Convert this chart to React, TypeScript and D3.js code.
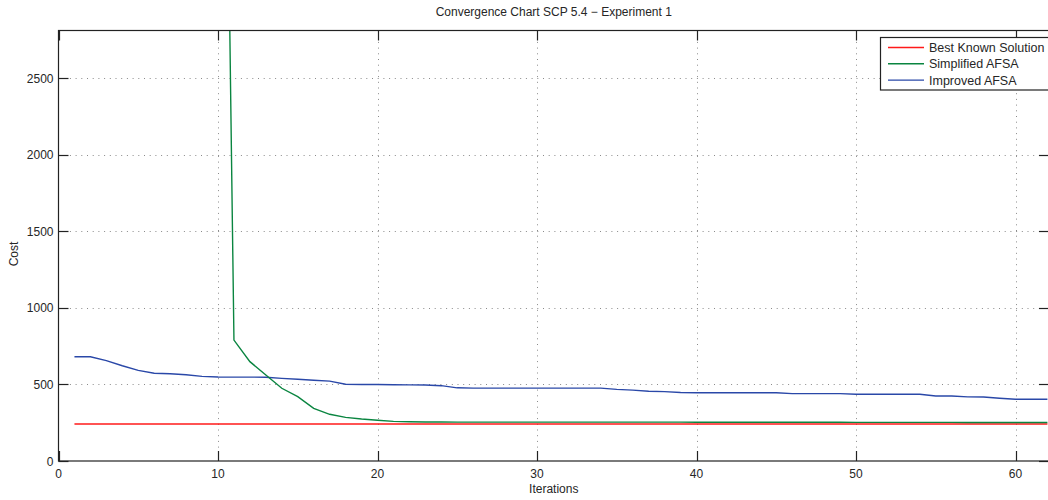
import React, { useEffect, useRef } from 'react'
import * as d3 from 'd3'

const title = 'Convergence Chart SCP 5.4 − Experiment 1'
const xTicks = [0, 10, 20, 30, 40, 50, 60]
const yTicks = [0, 500, 1000, 1500, 2000, 2500]
const seriesNames = ['Best Known Solution', 'Simplified AFSA', 'Improved AFSA']
const seriesColors = ['#ff1a1a', '#0a8540', '#2a48a8']

// iterations 1..62
const iterations = d3.range(1, 63)
const bestKnown = iterations.map(() => 242)
// green starts far above the visible top, only iteration 10 onwards is read
const simplifiedIters = d3.range(10, 63)
const simplified = [
  8570, 790, 649, 562, 475, 420, 344, 305, 285, 274,
  266, 259, 256, 255, 255, 254, 254, 254, 254, 254,
  254, 254, 254, 254, 254, 254, 254, 254, 254, 254,
  253, 253, 253, 253, 253, 253, 253, 253, 253, 253,
  252, 252, 252, 252, 252, 252, 252, 251, 251, 251,
  251, 251, 251
]
const improved = [
  681, 681, 656, 622, 592, 573, 570, 563, 553, 549,
  548, 548, 547, 540, 534, 527, 522, 501, 500, 500,
  498, 497, 496, 492, 478, 476, 476, 476, 476, 476,
  476, 476, 476, 476, 468, 463, 456, 453, 447, 446,
  446, 446, 446, 446, 446, 440, 440, 440, 440, 436,
  436, 436, 436, 436, 425, 425, 419, 418, 410, 403,
  403, 403
]

const App = () => {
  const ref = useRef<SVGSVGElement>(null)

  useEffect(() => {
    const width = 1048
    const height = 500
    const left = 58.5
    const right = 1049
    const top = 30.5
    const bottom = 461
    const font = 'Liberation Sans, Arial, Helvetica, sans-serif'

    const svg = d3.select(ref.current)
    svg.selectAll('*').remove()
    svg.attr('width', width).attr('height', height)

    const x = d3.scaleLinear().domain([0, 62.1]).range([left, right])
    const y = d3.scaleLinear().domain([0, 2812]).range([bottom, top])

    svg.append('rect').attr('width', width).attr('height', height).attr('fill', '#fff')

    svg.append('defs').append('clipPath').attr('id', 'plotclip')
      .append('rect')
      .attr('x', left).attr('y', top)
      .attr('width', right - left).attr('height', bottom - top)

    // grid
    const grid = svg.append('g')
      .attr('stroke', '#8a8a8a')
      .attr('stroke-width', 1)
      .attr('stroke-dasharray', '1 4.7')
    grid.selectAll('line.gx').data(xTicks.filter(d => d > 0)).enter()
      .append('line')
      .attr('x1', d => Math.round(x(d)) + 0.5).attr('x2', d => Math.round(x(d)) + 0.5)
      .attr('y1', top).attr('y2', bottom)
    grid.selectAll('line.gy').data(yTicks.filter(d => d > 0)).enter()
      .append('line')
      .attr('y1', d => Math.round(y(d)) + 0.5).attr('y2', d => Math.round(y(d)) + 0.5)
      .attr('x1', left).attr('x2', right)

    // series
    const plot = svg.append('g').attr('clip-path', 'url(#plotclip)')
      .attr('fill', 'none').attr('stroke-width', 1.4)
    const line = d3.line<[number, number]>().x(d => x(d[0])).y(d => y(d[1]))
    plot.append('path').attr('stroke', seriesColors[0])
      .attr('d', line(iterations.map((it, i) => [it, bestKnown[i]])))
    plot.append('path').attr('stroke', seriesColors[2])
      .attr('d', line(iterations.map((it, i) => [it, improved[i]])))
    plot.append('path').attr('stroke', seriesColors[1])
      .attr('d', line(simplifiedIters.map((it, i) => [it, simplified[i]])))

    // frame + ticks
    const tl = 10
    const axes = svg.append('g').attr('stroke', '#222').attr('stroke-width', 1.2)
    axes.append('rect')
      .attr('x', left).attr('y', top)
      .attr('width', right - left).attr('height', bottom - top)
      .attr('fill', 'none')
    xTicks.forEach(t => {
      const px = Math.round(x(t)) + 0.5
      axes.append('line').attr('x1', px).attr('x2', px).attr('y1', bottom).attr('y2', bottom - tl)
      axes.append('line').attr('x1', px).attr('x2', px).attr('y1', top).attr('y2', top + tl)
    })
    yTicks.forEach(t => {
      const py = Math.round(y(t)) + 0.5
      axes.append('line').attr('y1', py).attr('y2', py).attr('x1', left).attr('x2', left + tl)
      axes.append('line').attr('y1', py).attr('y2', py).attr('x1', right).attr('x2', right - tl)
    })

    const txt = svg.append('g').attr('font-family', font).attr('font-size', 12).attr('fill', '#262626')
    xTicks.forEach(t => {
      txt.append('text').attr('x', x(t)).attr('y', 478)
        .attr('text-anchor', 'middle').text(t)
    })
    yTicks.forEach(t => {
      txt.append('text').attr('x', 53.5).attr('y', y(t) + 4.5)
        .attr('text-anchor', 'end').text(t)
    })
    txt.append('text').attr('x', (left + right) / 2).attr('y', 493)
      .attr('text-anchor', 'middle').text('Iterations')
    txt.append('text').attr('transform', 'translate(18,254) rotate(-90)')
      .attr('text-anchor', 'middle').text('Cost')
    txt.append('text').attr('x', (left + right) / 2).attr('y', 16)
      .attr('text-anchor', 'middle').text(title)

    // legend
    const lg = svg.append('g')
    lg.append('rect').attr('x', 880.5).attr('y', 37.5).attr('width', 180).attr('height', 52.5)
      .attr('fill', '#fff').attr('stroke', '#222').attr('stroke-width', 1.2)
    seriesNames.forEach((name, i) => {
      const ly = 47.5 + i * 16.3
      lg.append('line').attr('x1', 888).attr('x2', 924).attr('y1', ly).attr('y2', ly)
        .attr('stroke', seriesColors[i]).attr('stroke-width', 1.4)
      lg.append('text').attr('x', 929).attr('y', ly + 4.4)
        .attr('font-family', font).attr('font-size', 12.5).attr('fill', '#262626')
        .text(name)
    })
  }, [])

  return <svg ref={ref} style={{ position: 'absolute', left: 0, top: 0, display: 'block' }} />
}

export default App
